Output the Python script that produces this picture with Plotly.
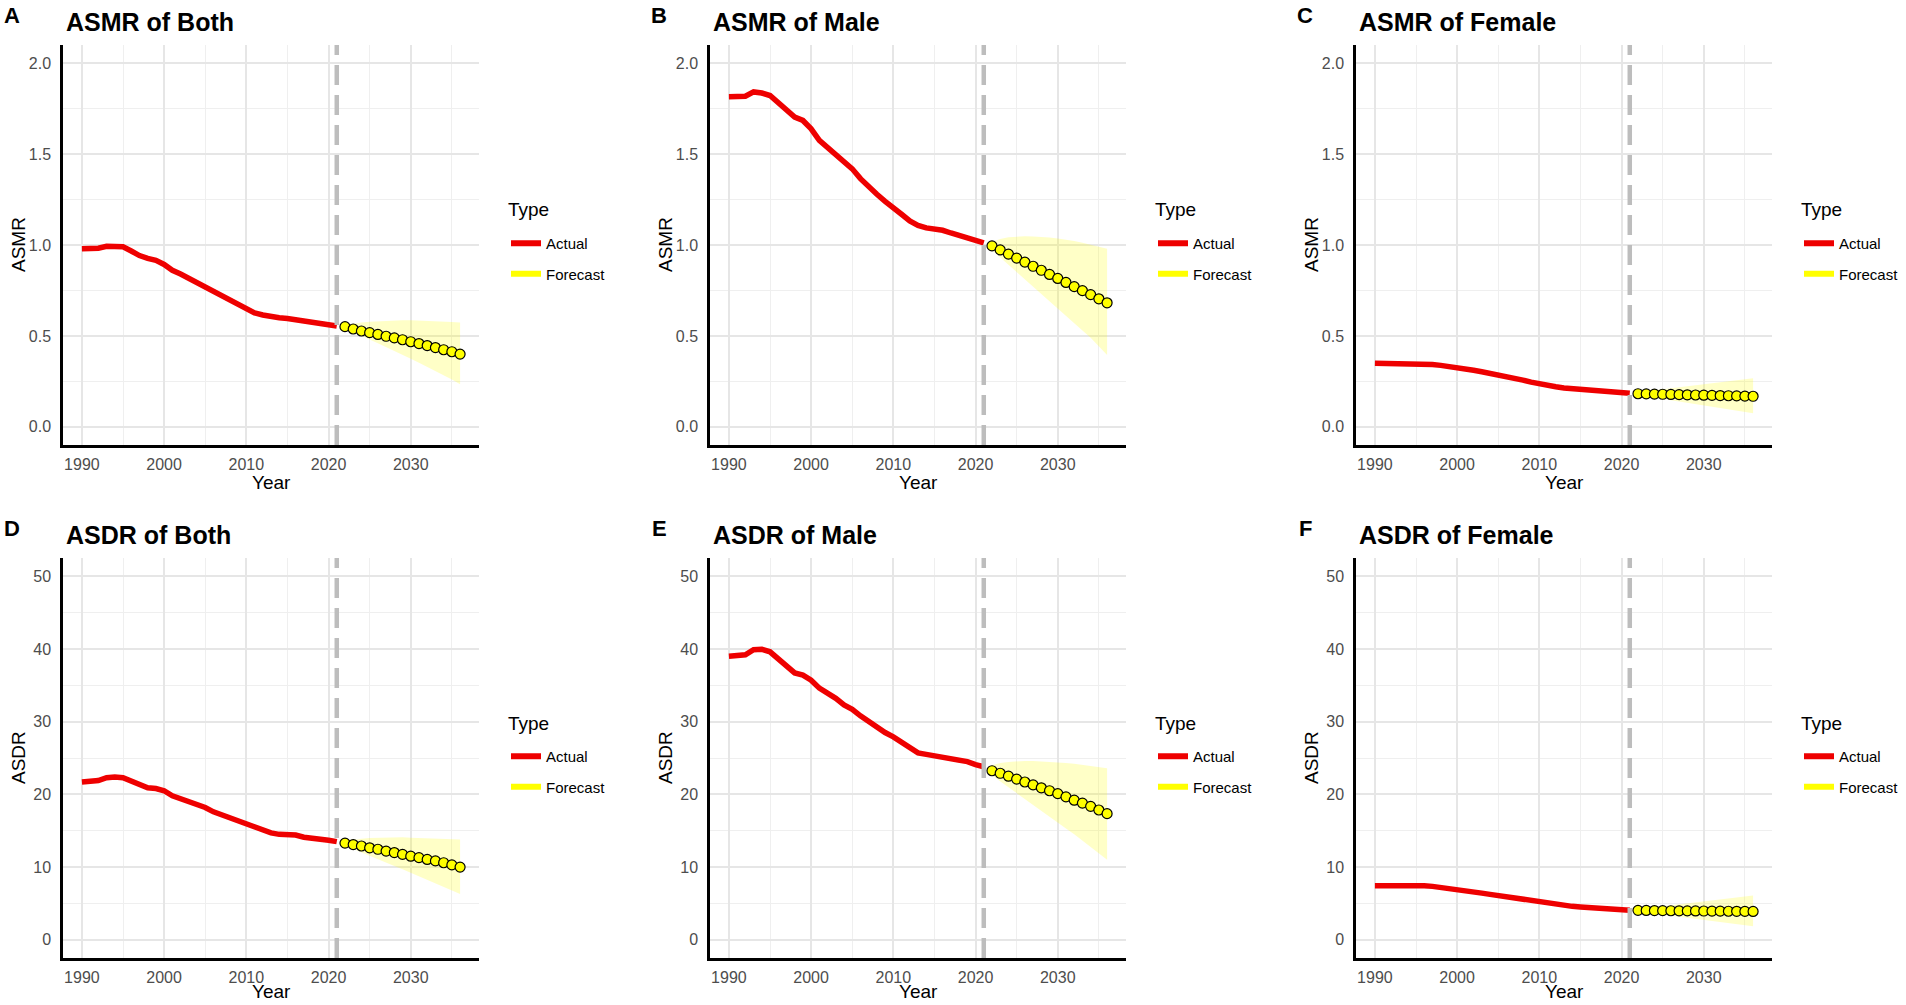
import plotly.graph_objects as go

W, H = 1906, 1005

years_actual = list(range(1990, 2022))
years_forecast = list(range(2022, 2037))

panel_letters = ["A", "B", "C", "D", "E", "F"]
panel_titles = ["ASMR of Both", "ASMR of Male", "ASMR of Female",
                "ASDR of Both", "ASDR of Male", "ASDR of Female"]
y_titles = ["ASMR", "ASMR", "ASMR", "ASDR", "ASDR", "ASDR"]
legend_labels = ["Actual", "Forecast"]
legend_title = "Type"
x_title = "Year"

asmr_both_actual = [0.980, 0.981, 0.982, 0.993, 0.995, 0.990, 0.967, 0.942, 0.926, 0.916, 0.893,
                    0.861, 0.840, 0.816, 0.792, 0.770, 0.743, 0.719, 0.693, 0.675, 0.651, 0.627,
                    0.615, 0.605, 0.600, 0.596, 0.590, 0.583, 0.578, 0.569, 0.563, 0.554]
asmr_both_fc = [0.551, 0.538, 0.527, 0.518, 0.508, 0.498, 0.489, 0.479, 0.468, 0.458, 0.447,
                0.436, 0.424, 0.413, 0.400]
asmr_both_up = [0.560, 0.568, 0.574, 0.578, 0.581, 0.583, 0.585, 0.586, 0.586, 0.585, 0.584,
                0.582, 0.580, 0.577, 0.574]
asmr_both_lo = [0.542, 0.520, 0.500, 0.480, 0.460, 0.440, 0.418, 0.397, 0.375, 0.353, 0.330,
                0.307, 0.284, 0.260, 0.234]

asmr_male_actual = [1.816, 1.818, 1.818, 1.842, 1.836, 1.822, 1.785, 1.740, 1.703, 1.685, 1.639,
                    1.575, 1.538, 1.502, 1.456, 1.419, 1.365, 1.319, 1.279, 1.240, 1.209, 1.169,
                    1.132, 1.108, 1.094, 1.087, 1.081, 1.066, 1.054, 1.041, 1.026, 1.012]
asmr_male_fc = [0.995, 0.973, 0.950, 0.928, 0.906, 0.883, 0.861, 0.838, 0.816, 0.794, 0.771,
                0.749, 0.727, 0.704, 0.682]
asmr_male_up = [1.018, 1.033, 1.042, 1.047, 1.048, 1.047, 1.045, 1.041, 1.036, 1.030, 1.022,
                1.013, 1.003, 0.992, 0.980]
asmr_male_lo = [0.972, 0.930, 0.890, 0.850, 0.810, 0.770, 0.730, 0.690, 0.650, 0.610, 0.570,
                0.530, 0.490, 0.443, 0.395]

asmr_female_actual = [0.349, 0.349, 0.349, 0.349, 0.349, 0.349, 0.347, 0.343, 0.338, 0.333, 0.327,
                      0.319, 0.311, 0.303, 0.295, 0.287, 0.278, 0.268, 0.257, 0.246, 0.236, 0.227,
                      0.220, 0.214, 0.210, 0.207, 0.203, 0.200, 0.196, 0.192, 0.188, 0.184]
asmr_female_fc = [0.182, 0.181, 0.180, 0.179, 0.178, 0.177, 0.176, 0.175, 0.174, 0.173, 0.172,
                  0.171, 0.170, 0.169, 0.168]
asmr_female_up = [0.190, 0.196, 0.201, 0.207, 0.212, 0.218, 0.223, 0.229, 0.234, 0.240, 0.245,
                  0.251, 0.256, 0.262, 0.267]
asmr_female_lo = [0.175, 0.168, 0.161, 0.154, 0.147, 0.140, 0.133, 0.126, 0.118, 0.111, 0.104,
                  0.097, 0.090, 0.082, 0.075]

asdr_both_actual = [21.7, 21.8, 21.9, 22.3, 22.4, 22.3, 21.8, 21.4, 20.9, 20.8, 20.5, 19.8, 19.4,
                    19.1, 18.5, 18.2, 17.6, 17.2, 16.7, 16.2, 15.9, 15.4, 15.1, 14.7, 14.5, 14.4,
                    14.4, 14.1, 14.0, 13.9, 13.7, 13.5]
asdr_both_fc = [13.3, 13.1, 12.9, 12.65, 12.45, 12.2, 12.0, 11.75, 11.5, 11.3, 11.05, 10.85,
                10.6, 10.3, 10.0]
asdr_both_up = [13.6, 13.8, 13.9, 14.0, 14.05, 14.1, 14.1, 14.1, 14.05, 14.0, 14.0, 13.95, 13.9,
                13.85, 13.8]
asdr_both_lo = [13.0, 12.5, 12.0, 11.55, 11.1, 10.6, 10.15, 9.7, 9.2, 8.75, 8.25, 7.8, 7.3, 6.8,
                6.3]

asdr_male_actual = [39.0, 39.1, 39.2, 39.9, 39.95, 39.6, 38.7, 37.6, 36.7, 36.4, 35.7, 34.6, 34.0,
                    33.2, 32.3, 31.7, 30.8, 30.0, 29.3, 28.5, 27.9, 27.1, 26.3, 25.7, 25.5, 25.3,
                    25.2, 24.9, 24.7, 24.5, 24.1, 23.8]
asdr_male_fc = [23.25, 22.9, 22.5, 22.1, 21.7, 21.3, 20.9, 20.5, 20.1, 19.65, 19.2, 18.8, 18.35,
                17.85, 17.35]
asdr_male_up = [24.0, 24.3, 24.45, 24.55, 24.6, 24.6, 24.55, 24.5, 24.4, 24.3, 24.2, 24.05, 23.9,
                23.75, 23.6]
asdr_male_lo = [22.6, 21.8, 21.0, 20.2, 19.4, 18.6, 17.8, 16.9, 16.1, 15.3, 14.5, 13.6, 12.8,
                11.9, 11.0]

asdr_female_actual = [7.45, 7.45, 7.46, 7.48, 7.55, 7.52, 7.45, 7.35, 7.22, 7.10, 6.98, 6.80, 6.60,
                      6.42, 6.25, 6.08, 5.90, 5.72, 5.52, 5.32, 5.12, 4.95, 4.82, 4.70, 4.60, 4.52,
                      4.45, 4.38, 4.30, 4.22, 4.14, 4.06]
asdr_female_fc = [4.05, 4.04, 4.02, 4.01, 4.00, 3.99, 3.98, 3.97, 3.96, 3.95, 3.94, 3.93, 3.92,
                  3.91, 3.90]
asdr_female_up = [4.20, 4.33, 4.47, 4.60, 4.74, 4.87, 5.01, 5.14, 5.28, 5.42, 5.55, 5.69, 5.82,
                  5.96, 6.10]
asdr_female_lo = [3.90, 3.75, 3.60, 3.46, 3.31, 3.17, 3.02, 2.88, 2.73, 2.59, 2.44, 2.29, 2.14,
                  2.00, 1.85]

cut_year = 2021
x_ticks = [1990, 2000, 2010, 2020, 2030]
asmr_ticks = [0.0, 0.5, 1.0, 1.5, 2.0]
asdr_ticks = [0, 10, 20, 30, 40, 50]

panels = [
    (asmr_both_actual, asmr_both_fc, asmr_both_up, asmr_both_lo),
    (asmr_male_actual, asmr_male_fc, asmr_male_up, asmr_male_lo),
    (asmr_female_actual, asmr_female_fc, asmr_female_up, asmr_female_lo),
    (asdr_both_actual, asdr_both_fc, asdr_both_up, asdr_both_lo),
    (asdr_male_actual, asdr_male_fc, asdr_male_up, asdr_male_lo),
    (asdr_female_actual, asdr_female_fc, asdr_female_up, asdr_female_lo),
]

# ---- layout geometry (pixels) ----
col_x0 = [63, 710, 1356]
plot_w = 416
row_y0 = [45, 558]   # top edge (px from top)
plot_h = 400
xtitle_off = [38, 33]

FONT = "Liberation Sans, Arial, sans-serif"
RED = "#ee0000"
YELLOW = "#ffff00"
RIBBON = "rgba(255,255,0,0.22)"
GRID = "#e6e6e6"

def px_x(p):
    return p / W

def px_y(p):
    return 1 - p / H

fig = go.Figure()
layout = dict(
    width=W, height=H,
    margin=dict(l=0, r=0, t=0, b=0),
    paper_bgcolor="white", plot_bgcolor="white",
    font=dict(family=FONT, color="black"),
    showlegend=True,
)
annotations = []
shapes = []

for i, (act, fc, up, lo) in enumerate(panels):
    r, c = divmod(i, 3)
    n = i + 1
    xa = "x" if n == 1 else f"x{n}"
    ya = "y" if n == 1 else f"y{n}"
    lg = "legend" if n == 1 else f"legend{n}"
    x0 = col_x0[c]
    y0 = row_y0[r]

    # ribbon
    fig.add_trace(go.Scatter(
        x=years_forecast + years_forecast[::-1], y=up + lo[::-1],
        fill="toself", fillcolor=RIBBON, line=dict(width=0), mode="lines",
        hoverinfo="skip", showlegend=False, xaxis=xa, yaxis=ya))
    # actual line
    fig.add_trace(go.Scatter(
        x=years_actual, y=act, mode="lines", line=dict(color=RED, width=5.5),
        showlegend=False, xaxis=xa, yaxis=ya))
    # forecast points
    fig.add_trace(go.Scatter(
        x=years_forecast, y=fc, mode="markers",
        marker=dict(color=YELLOW, size=10, line=dict(color="black", width=1.2)),
        showlegend=False, xaxis=xa, yaxis=ya))
    # legend entries
    fig.add_trace(go.Scatter(
        x=[None], y=[None], mode="lines", line=dict(color=RED, width=6),
        name=legend_labels[0], legend=lg, legendgroup=f"a{n}",
        xaxis=xa, yaxis=ya))
    fig.add_trace(go.Scatter(
        x=[None], y=[None], mode="lines", line=dict(color=YELLOW, width=6),
        name=legend_labels[1], legend=lg, legendgroup=f"f{n}",
        xaxis=xa, yaxis=ya))

    is_asmr = r == 0
    yticks = asmr_ticks if is_asmr else asdr_ticks
    ymin, ymax = min(yticks), max(yticks)
    pad = (ymax - ymin) * 0.05
    ydt = yticks[1] - yticks[0]

    axis_common = dict(
        showline=True, linecolor="black", linewidth=2.5, mirror=False,
        zeroline=False, showgrid=True, gridcolor=GRID, gridwidth=2,
        ticks="", tickfont=dict(family=FONT, size=16, color="#4d4d4d"),
    )
    layout["xaxis" if n == 1 else f"xaxis{n}"] = dict(
        axis_common,
        domain=[px_x(x0), px_x(x0 + plot_w)],
        anchor=ya,
        range=[1990 - 46 * 0.05, 2036 + 46 * 0.05],
        tickvals=x_ticks, ticktext=[str(v) for v in x_ticks],
        minor=dict(tickvals=[v + 5 for v in x_ticks], showgrid=True,
                   gridcolor="#efefef", gridwidth=1),
        ticklabelstandoff=3,
    )
    layout["yaxis" if n == 1 else f"yaxis{n}"] = dict(
        axis_common,
        domain=[px_y(y0 + plot_h), px_y(y0)],
        anchor=xa,
        range=[ymin - pad, ymax + pad],
        tickvals=yticks,
        ticktext=[f"{v:.1f}" for v in yticks] if is_asmr else [str(v) for v in yticks],
        minor=dict(tickvals=[v + ydt / 2 for v in yticks[:-1]], showgrid=True,
                   gridcolor="#efefef", gridwidth=1),
        ticklabelstandoff=6,
    )

    # dashed vertical line at the cut year
    shapes.append(dict(
        type="line", xref=xa, yref=f"{ya} domain", x0=cut_year, x1=cut_year, y0=0, y1=1,
        line=dict(color="#bdbdbd", width=4.5, dash="20px,10px"), layer="above"))

    # panel letter
    annotations.append(dict(
        text=f"<b>{panel_letters[i]}</b>", x=px_x(x0 - 51), y=px_y(y0 - 30),
        xref="paper", yref="paper", xanchor="center", yanchor="middle",
        showarrow=False, font=dict(family=FONT, size=22, color="black")))
    # panel title
    annotations.append(dict(
        text=f"<b>{panel_titles[i]}</b>", x=px_x(x0 + 1), y=px_y(y0 - 23),
        xref="paper", yref="paper", xanchor="left", yanchor="middle",
        showarrow=False, font=dict(family=FONT, size=25, color="black")))
    # y title
    annotations.append(dict(
        text=y_titles[i], x=px_x(x0 - 45), y=px_y(y0 + plot_h / 2),
        xref="paper", yref="paper", xanchor="center", yanchor="middle",
        textangle=-90, showarrow=False, font=dict(family=FONT, size=19, color="black")))
    # x title
    annotations.append(dict(
        text=x_title, x=px_x(x0 + plot_w / 2), y=px_y(y0 + plot_h + xtitle_off[r]),
        xref="paper", yref="paper", xanchor="center", yanchor="middle",
        showarrow=False, font=dict(family=FONT, size=19, color="black")))
    # legend title
    annotations.append(dict(
        text=legend_title, x=px_x(x0 + plot_w + 27), y=px_y(y0 + 165),
        xref="paper", yref="paper", xanchor="left", yanchor="middle",
        showarrow=False, font=dict(family=FONT, size=19, color="black")))

    layout[lg] = dict(
        x=px_x(x0 + plot_w + 27), y=px_y(y0 + 182),
        xanchor="left", yanchor="top",
        bgcolor="rgba(0,0,0,0)", borderwidth=0,
        font=dict(family=FONT, size=15, color="black"),
        tracegroupgap=8, itemwidth=30,
    )

layout["annotations"] = annotations
layout["shapes"] = shapes
fig.update_layout(**layout)
fig.write_html(
    "out.html",
    config={"displayModeBar": False},
    post_script="document.body.style.margin='0';document.body.style.overflow='hidden';",
)
